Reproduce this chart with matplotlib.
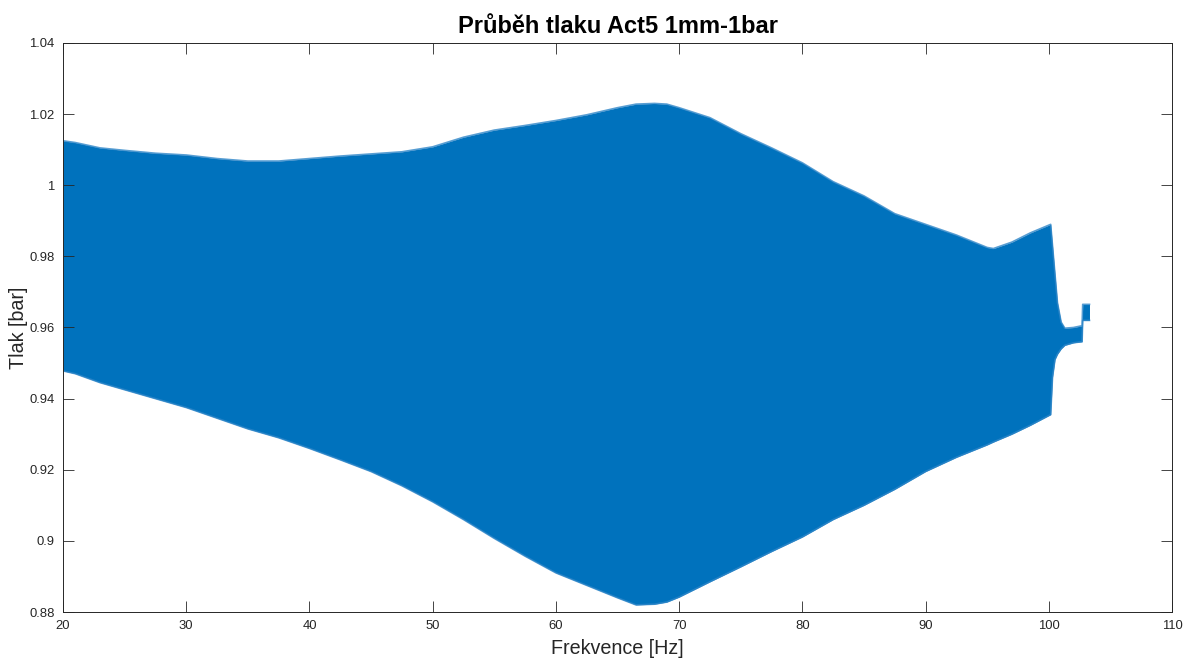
import matplotlib
matplotlib.use("Agg")
import matplotlib.pyplot as plt
from matplotlib.ticker import FuncFormatter

plt.rcParams['font.family'] = ['Liberation Sans', 'DejaVu Sans']

# Pressure envelope of the swept-sine measurement (upper / lower peaks)
freq = [20, 21, 23, 25, 27.5, 30, 32.5, 35, 37.5, 40, 42.5, 45, 47.5, 50,
        52.5, 55, 57.5, 60, 62.5, 65, 66.5, 68, 69, 70, 72.5, 75, 77.5, 80,
        82.5, 85, 87.5, 90, 92.5, 95, 95.5, 97, 98.5, 100.15, 100.3, 100.5,
        100.7, 101.0, 101.3, 102.0, 102.7, 102.75, 103.3]
p_upper = [1.0125, 1.012, 1.0105, 1.0098, 1.009, 1.0085, 1.0075, 1.0068,
           1.0068, 1.0075, 1.0082, 1.0088, 1.0094, 1.0108, 1.0135, 1.0155,
           1.0168, 1.0182, 1.0198, 1.0218, 1.0228, 1.023, 1.0228, 1.0218,
           1.019, 1.0145, 1.0105, 1.0063, 1.001, 0.997, 0.992, 0.989, 0.986,
           0.9825, 0.9822, 0.984, 0.9866, 0.989, 0.983, 0.975, 0.967, 0.9615,
           0.9598, 0.960, 0.9605, 0.9665, 0.9665]
p_lower = [0.9478, 0.947, 0.9445, 0.9425, 0.940, 0.9375, 0.9345, 0.9315,
           0.929, 0.926, 0.9228, 0.9195, 0.9155, 0.911, 0.906, 0.9007,
           0.8957, 0.891, 0.8875, 0.884, 0.882, 0.8822, 0.8828, 0.8842,
           0.8885, 0.8927, 0.897, 0.9011, 0.906, 0.910, 0.9145, 0.9195,
           0.9235, 0.927, 0.9278, 0.930, 0.9325, 0.9355, 0.946, 0.951,
           0.9525, 0.954, 0.955, 0.9557, 0.956, 0.962, 0.962]

x_ticks = [20, 30, 40, 50, 60, 70, 80, 90, 100, 110]
y_ticks = [0.88, 0.9, 0.92, 0.94, 0.96, 0.98, 1.0, 1.02, 1.04]

blue = '#0072BD'
edge_blue = '#2f86c8'
axis_col = '#262626'

fig = plt.figure(figsize=(11.84, 6.59), dpi=100)
ax = fig.add_axes([0.0532, 0.0713, 0.9367, 0.8635])

ax.fill_between(freq, p_lower, p_upper, color=blue, lw=0)
ax.plot(freq, p_upper, color=edge_blue, lw=1.2, alpha=0.8)
ax.plot(freq, p_lower, color=edge_blue, lw=1.2, alpha=0.8)

ax.set_xlim(20, 110)
ax.set_ylim(0.88, 1.04)
ax.set_xticks(x_ticks)
ax.set_yticks(y_ticks)
ax.yaxis.set_major_formatter(FuncFormatter(lambda v, p: f"{v:g}"))

ax.tick_params(direction='in', length=7.7, width=0.6, colors=axis_col,
               labelsize=9.4, top=True, right=True, pad=6)
for s in ax.spines.values():
    s.set_color(axis_col)
    s.set_linewidth(0.7)

ax.set_title('Průběh tlaku Act5 1mm-1bar', fontsize=17, fontweight='bold',
             color='black', pad=7)
ax.set_xlabel('Frekvence [Hz]', fontsize=14.2, color=axis_col, labelpad=5)
ax.set_ylabel('Tlak [bar]', fontsize=14.2, color=axis_col, labelpad=1)

fig.savefig('out.png', dpi=100)
